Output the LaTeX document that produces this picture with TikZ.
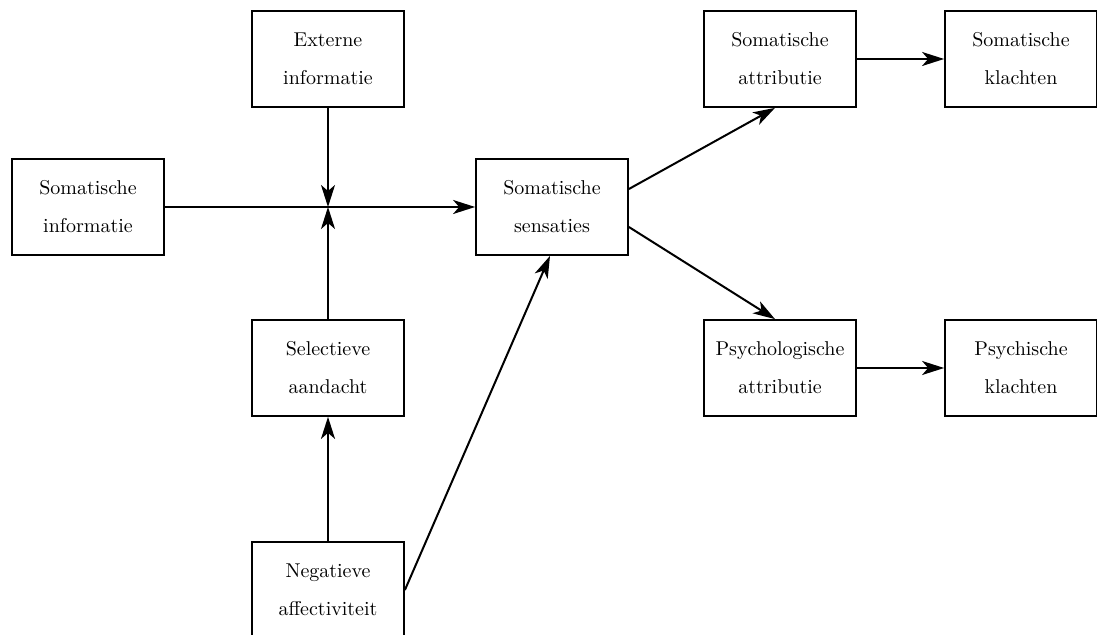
\documentclass[tikz,border=0pt]{standalone}
\usetikzlibrary{arrows.meta}

\begin{document}
\begin{tikzpicture}[x=0.5pt, y=-0.5pt,
	every node/.style={draw, line width=0.9pt, minimum width=76pt, minimum height=48pt, inner sep=0pt, align=center, font=\fontsize{10}{19}\selectfont},
	pijl/.style={line width=1pt, -{Stealth[length=11pt, width=7pt, inset=3pt]}}]

	\useasboundingbox (0,0) rectangle (1097,635);

	\node (somInfo) at (88,207) {Somatische\\informatie};
	\node (extInfo) at (328,59) {Externe\\informatie};
	\node (selAand) at (328,368) {Selectieve\\aandacht};
	\node (negAff)  at (328,590) {Negatieve\\affectiviteit};
	\node (somSens) at (552,207) {Somatische\\sensaties};
	\node (somAttr) at (780,59) {Somatische\\attributie};
	\node (psyAttr) at (780,368) {Psychologische\\attributie};
	\node (somKl)   at (1021,59) {Somatische\\klachten};
	\node (psyKl)   at (1021,368) {Psychische\\klachten};

	\coordinate (kruis) at (extInfo.south |- somInfo.east);

	\draw[pijl] (somInfo) -- (somSens);
	\draw[pijl] (extInfo) -- (kruis);
	\draw[pijl] (selAand) -- (kruis);
	\draw[pijl] (negAff) -- (selAand);
	\draw[pijl] (negAff.east) -- ([xshift=-1pt]somSens.south);
	\draw[pijl] ([yshift=9pt]somSens.east) -- ([xshift=-2.5pt]somAttr.south);
	\draw[pijl] ([yshift=-10pt]somSens.east) -- ([xshift=-2.5pt]psyAttr.north);
	\draw[pijl] (somAttr) -- (somKl);
	\draw[pijl] (psyAttr) -- (psyKl);
\end{tikzpicture}
\end{document}
